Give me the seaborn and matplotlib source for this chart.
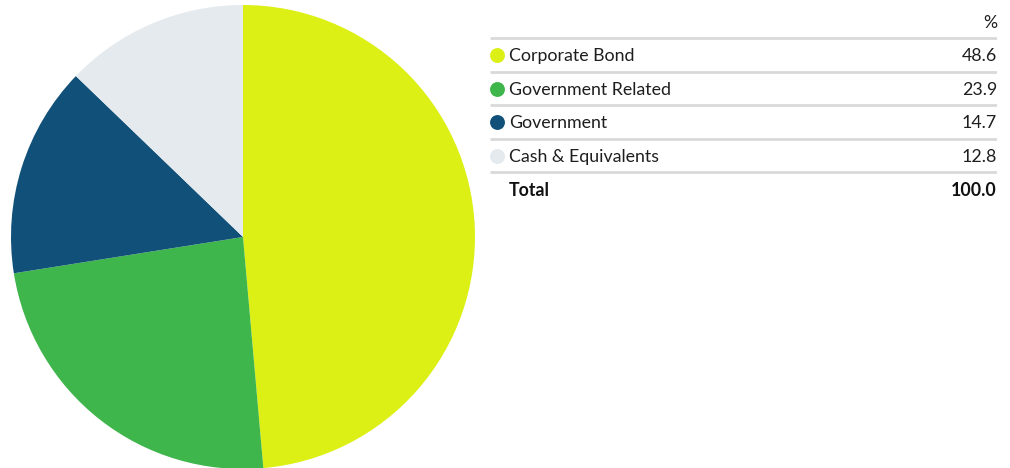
import matplotlib
matplotlib.use("Agg")
import matplotlib.pyplot as plt
import seaborn as sns

categories = ["Corporate Bond", "Government Related", "Government", "Cash & Equivalents"]
weights = [48.6, 23.9, 14.7, 12.8]
total_label = "Total"
total_value = "100.0"
header = "%"
colors = ["#DCF016", "#3FB64C", "#115078", "#E4EAED"]

sns.set_theme(style="white")
plt.rcParams["font.family"] = ["Lato", "DejaVu Sans"]

W, H = 1010, 468
fig = plt.figure(figsize=(W / 100, H / 100), dpi=100)

# pie on the left
ax = fig.add_axes([11 / W, -1 / H, 464 / W, 464 / H])
ax.pie(weights, colors=colors, startangle=90, counterclock=False,
       wedgeprops=dict(linewidth=0))
ax.set_xlim(-1, 1)
ax.set_ylim(-1, 1)
ax.set_aspect("equal")
ax.axis("off")

# table on the right, in pixel-like units
tx0, tx1, ty1 = 490, 997, 205
tb = fig.add_axes([tx0 / W, (H - ty1) / H, (tx1 - tx0) / W, ty1 / H])
tb.set_xlim(0, tx1 - tx0)
tb.set_ylim(ty1, 0)
tb.axis("off")

row_h = 33.5
line_top = 38
text_dy = 1.5
line_kw = dict(color="#D9D9D9", linewidth=2, solid_capstyle="butt")
fs = 12.8
ink = "#1E1E1E"
tb.text(tx1 - tx0, 22 + text_dy, header, ha="right", va="center", fontsize=fs, color=ink)
tb.plot([0, tx1 - tx0], [line_top, line_top], **line_kw)
for i, (cat, val, col) in enumerate(zip(categories, weights, colors)):
    yc = line_top + row_h * (i + 0.5)
    tb.scatter([7], [yc + 0.5], s=115, color=col, linewidths=0)
    tb.text(19, yc + text_dy, cat, ha="left", va="center", fontsize=fs, color=ink)
    tb.text(tx1 - tx0, yc + text_dy, f"{val:.1f}", ha="right", va="center", fontsize=fs, color=ink)
    ly = line_top + row_h * (i + 1)
    tb.plot([0, tx1 - tx0], [ly, ly], **line_kw)
yc = line_top + row_h * (len(categories) + 0.5)
tb.text(19, yc + text_dy, total_label, ha="left", va="center", fontsize=fs,
        fontweight="bold", color="#111111")
tb.text(tx1 - tx0, yc + text_dy, total_value, ha="right", va="center", fontsize=fs,
        fontweight="bold", color="#111111")

fig.savefig("out.png", dpi=100)
